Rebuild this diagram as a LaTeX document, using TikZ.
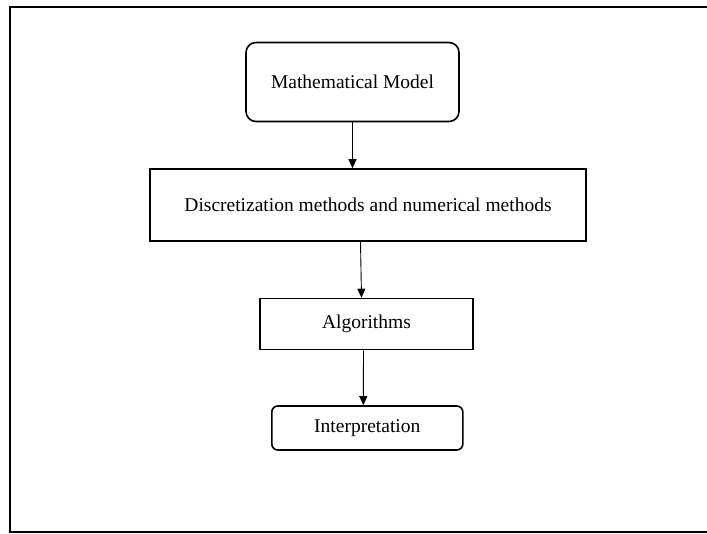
\documentclass[tikz,border=0pt]{standalone}
\usepackage{fontspec}
\setmainfont{Liberation Serif}
\usetikzlibrary{arrows.meta}

\begin{document}
\begin{tikzpicture}[x=1pt,y=-1pt,
  block/.style={draw,line width=1.6pt,text centered,font=\fontsize{19.5}{22}\selectfont,inner sep=0pt},
  roundblock/.style={block,rounded corners=#1},
  link/.style={-{Triangle[length=9pt,width=8pt]},line width=0.9pt}]
\def\xLeft{10}
\def\yTop{7}
\def\yBottom{532}
\useasboundingbox (0,0) rectangle (707,534);
  %\draw[help lines] (0,0) grid (707,534);
\draw[line width=2pt] (707,\yTop) -- (\xLeft,\yTop) -- (\xLeft,\yBottom) -- (707,\yBottom);
\path
(352.5,82) node [roundblock=10pt,minimum width=213pt,minimum height=79pt] (model) {Mathematical Model}
(368,205) node [block,minimum width=436pt,minimum height=72pt] (discrete) {Discretization methods and numerical methods}
(366.5,324) node [block,minimum width=213pt,minimum height=51pt] (algo) {Algorithms}
(367.3,428) node [roundblock=6pt,minimum width=191pt,minimum height=44pt] (interp) {Interpretation}
;

\begin{scope}[every path/.style=draw,link]
\path (model.south) -- (model.south |- discrete.north);
\path ([xshift=-7.5pt]discrete.south) -- ([xshift=-5pt]algo.north);
\path ([xshift=-3pt]algo.south) -- ([xshift=-4pt]interp.north);
\end{scope}
\end{tikzpicture}
\end{document}
